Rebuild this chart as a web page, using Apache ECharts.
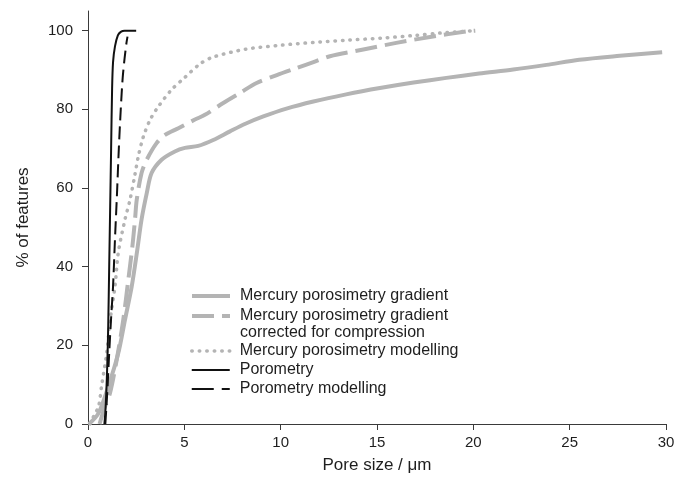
<!DOCTYPE html>
<html>
<head>
<meta charset="utf-8">
<title>Pore size distribution</title>
<script src="https://cdn.jsdelivr.net/npm/echarts@6/dist/echarts.min.js"></script>
<style>
  html, body { margin: 0; padding: 0; background: #ffffff; }
  #chart { width: 681px; height: 484px; }
</style>
</head>
<body>
<div id="chart"></div>
<script>
// Cumulative pore size curves: [pore size in µm, % of features]
const nameGradient = 'Mercury porosimetry gradient';
const nameCorrected = 'Mercury porosimetry gradient corrected for compression';
const nameModelling = 'Mercury porosimetry modelling';
const namePorometry = 'Porometry';
const namePorModelling = 'Porometry modelling';

const mercuryGradient = [
  [0.05, 0], [0.54, 2.7], [1.05, 9.5], [1.57, 18], [1.92, 26.5], [2.27, 35],
  [2.55, 44], [2.78, 52], [3.05, 58.7], [3.3, 63.8], [3.82, 67.2], [4.51, 69.3],
  [5.03, 70.2], [5.72, 70.7], [6.5, 72.2], [7.37, 74.4], [8.2, 76.4], [9.1, 78.2],
  [10.3, 80.2], [11.7, 82], [13.4, 83.8], [15.15, 85.4], [16.9, 86.8], [18.6, 88],
  [20.3, 89.1], [22.07, 90.1], [23.8, 91.3], [25.5, 92.6], [27.6, 93.6], [29.8, 94.5]
];

const mercuryCorrected = [
  [0.6, 0], [0.85, 4], [1.14, 7.8], [1.49, 16.3], [1.83, 26.5], [2.09, 36.6],
  [2.3, 45], [2.44, 52], [2.53, 57], [2.78, 63.8], [3.05, 67.2], [3.56, 71.4],
  [4.0, 73.5], [4.69, 75.2], [5.55, 77.4], [6.07, 78.6], [7.02, 81.6], [7.9, 84.2],
  [8.75, 86.7], [9.8, 88.7], [10.83, 90.5], [11.7, 92], [12.56, 93.5], [14.29, 95.2],
  [16.0, 96.9], [17.75, 98.4], [19.65, 99.8], [20.1, 100]
];

const mercuryModelling = [
  [0.1, 0], [0.3, 2], [0.55, 4.5], [0.7, 9.5], [0.97, 18], [1.15, 26.5], [1.4, 35],
  [1.57, 43.5], [1.92, 52], [2.18, 57], [2.44, 63.5], [2.61, 68], [2.87, 73],
  [3.22, 77.3], [3.65, 80.7], [4.34, 85], [5.0, 88], [5.8, 91.5], [6.5, 93.3],
  [8.2, 95.3], [10, 96.3], [11.7, 97], [13.5, 97.6], [15.2, 98.1], [17, 98.8],
  [18.3, 99.4], [20, 100]
];

const porometry = [
  [0.85, 0], [0.9, 3], [0.95, 8], [1.0, 15], [1.05, 25], [1.1, 40], [1.15, 55],
  [1.2, 70], [1.25, 85], [1.3, 92], [1.4, 96], [1.55, 98.8], [1.7, 99.7],
  [1.9, 100], [2.5, 100]
];

const porometryModelling = [
  [0.9, 0], [1.0, 8], [1.1, 18], [1.2, 27], [1.3, 35], [1.4, 47], [1.5, 58],
  [1.6, 70], [1.7, 80], [1.8, 88], [1.9, 93], [2.0, 97], [2.05, 98.5]
];

const yTicks = [0, 20, 40, 60, 80, 100];

const FONT = 'Liberation Sans, Arial, sans-serif';
const GREY = '#b4b4b4';
const TEXT = '#1e1e1e';
const AXIS = '#3a3a3a';

const chart = echarts.init(document.getElementById('chart'), null, { renderer: 'canvas' });

const legendText = {
  fontFamily: FONT,
  fontSize: 16,
  color: TEXT,
  lineHeight: 17,
  padding: [0, 0, 0, 5]
};

const legendBase = {
  orient: 'vertical',
  left: 190,
  padding: 0,
  itemWidth: 38,
  itemHeight: 14,
  itemGap: 2,
  textStyle: legendText,
  itemStyle: { opacity: 0 },
  selectedMode: false
};

function lineSeries(name, data, color, width, type, cap) {
  return {
    name: name,
    type: 'line',
    data: data,
    symbol: 'none',
    smooth: 0.3,
    lineStyle: { color: color, width: width, type: type, cap: cap || 'butt', join: 'round' },
    itemStyle: { color: color },
    emphasis: { disabled: true },
    z: 2
  };
}

chart.setOption({
  animation: false,
  backgroundColor: '#ffffff',
  grid: { left: 88, right: 15, top: 11, bottom: 60 },
  xAxis: {
    type: 'value',
    min: 0,
    max: 30,
    interval: 5,
    name: 'Pore size / μm',
    nameLocation: 'middle',
    nameGap: 33,
    nameTextStyle: { fontFamily: FONT, fontSize: 17, color: TEXT },
    axisLine: { show: true, lineStyle: { color: AXIS, width: 1 } },
    axisTick: { show: true, length: 6, lineStyle: { color: AXIS } },
    axisLabel: { fontFamily: FONT, fontSize: 15, color: TEXT, margin: 11 },
    splitLine: { show: false }
  },
  yAxis: {
    type: 'value',
    min: 0,
    max: 105,
    interval: 20,
    name: '% of features',
    nameLocation: 'middle',
    nameGap: 56,
    nameTextStyle: { fontFamily: FONT, fontSize: 17, color: TEXT },
    axisLine: { show: true, lineStyle: { color: AXIS, width: 1 } },
    axisTick: { show: true, length: 6, lineStyle: { color: AXIS }, customValues: yTicks },
    axisLabel: { fontFamily: FONT, fontSize: 15, color: TEXT, margin: 15, customValues: yTicks },
    splitLine: { show: false }
  },
  legend: [
    Object.assign({}, legendBase, {
      top: 287.5,
      data: [{ name: nameGradient, lineStyle: { width: 4 } }]
    }),
    Object.assign({}, legendBase, {
      top: 290.5,
      data: [{ name: nameCorrected, lineStyle: { width: 4, type: [22, 8] } }],
      formatter: function () {
        return '\nMercury porosimetry gradient\ncorrected for compression';
      }
    }),
    Object.assign({}, legendBase, {
      top: 342.5,
      data: [
        { name: nameModelling, lineStyle: { width: 3.5 } },
        { name: namePorometry, lineStyle: { width: 2 } },
        { name: namePorModelling, lineStyle: { width: 2, type: [22, 8] } }
      ]
    })
  ],
  series: [
    lineSeries(nameGradient, mercuryGradient, GREY, 4, 'solid'),
    lineSeries(nameCorrected, mercuryCorrected, GREY, 4, [22, 8]),
    lineSeries(nameModelling, mercuryModelling, GREY, 3.5, [0.5, 7], 'round'),
    lineSeries(namePorometry, porometry, '#111111', 2, 'solid'),
    lineSeries(namePorModelling, porometryModelling, '#111111', 2, [13, 6])
  ]
});
</script>
</body>
</html>
